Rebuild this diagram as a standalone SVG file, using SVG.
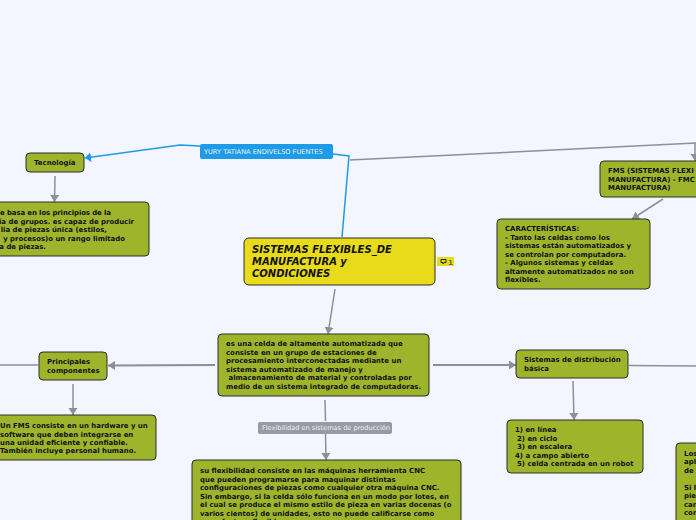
<svg xmlns="http://www.w3.org/2000/svg" width="696" height="520" viewBox="0 0 696 520">
<style>
.n{fill:#9eb52b;stroke:#2c2c2c;stroke-width:1}
.t{font:bold 6.950px "DejaVu Sans",sans-serif;fill:#111}
.e{text-anchor:end}
.c{fill:none;stroke:#8e8e98;stroke-width:1.500}
.w{stroke-width:2.200}
.b{fill:none;stroke:#1e9be8;stroke-width:1.500}
.l{font:6.600px "DejaVu Sans",sans-serif;fill:#e8f2fa}
</style>
<defs>
<marker id="a" markerUnits="userSpaceOnUse" markerWidth="12" markerHeight="10" refX="7" refY="4.500" orient="auto"><path d="M0 0L7 4.500L0 9Z" fill="#8e8e98"/></marker>
<marker id="ab" markerUnits="userSpaceOnUse" markerWidth="12" markerHeight="12" refX="6" refY="5" orient="auto"><path d="M0 0L6 5L0 10Z" fill="#1e9be8"/></marker>
</defs>
<rect width="696" height="520" fill="#f3f6ff"/>
<g id="connectors">
<path class="b" d="M200 146L180 145L85 158" marker-end="url(#ab)"/>
<path class="b" d="M333 154L349 156L342 237"/>
<path class="c" d="M350 160L696 143"/>
<path class="c" d="M695 143L695 161" marker-end="url(#a)"/>
<path class="c" d="M663 199L632 219" marker-end="url(#a)"/>
<path class="c" d="M55 176L54.500 202" marker-end="url(#a)"/>
<path class="c" d="M335 289L328 334" marker-end="url(#a)"/>
<path class="c w" d="M215 365L108 365.500" marker-end="url(#a)"/>
<path class="c" d="M38 365L0 365"/>
<path class="c" d="M73 384L73 415" marker-end="url(#a)"/>
<path class="c w" d="M433 365L516 365" marker-end="url(#a)"/>
<path class="c" d="M629 365.500L696 366"/>
<path class="c" d="M573 381L574 420" marker-end="url(#a)"/>
<path class="c" d="M325 400L325.500 421"/>
<path class="c" d="M325.500 434L326 460" marker-end="url(#a)"/>
</g>
<g id="n-yury"><rect x="200" y="144" width="133" height="15" rx="2" fill="#1e9be8"/><text class="l" x="204" y="154">YURY TATIANA ENDIVELSO FUENTES</text></g>
<g id="n-main"><rect x="244" y="238" width="191" height="47" rx="5" fill="#e8dc1a" stroke="#2c2c2c"/>
<text font-family="DejaVu Sans" font-weight="bold" font-style="italic" font-size="10" fill="#111"><tspan x="252" y="253">SISTEMAS FLEXIBLES_DE</tspan><tspan x="252" y="265">MANUFACTURA y</tspan><tspan x="252" y="277">CONDICIONES</tspan></text></g>
<g id="n-badge"><rect x="437" y="257" width="17" height="9" rx="1" fill="#e8dc1a"/><path d="M441 259.500H446V262.500H444L443 264V262.500H441Z" fill="none" stroke="#222"/><text x="448" y="264.500" font-family="DejaVu Sans" font-size="7" font-weight="bold" fill="#666">1</text></g>
<g id="n-tec"><rect class="n" x="26" y="153" width="58" height="19" rx="4"/><text class="t" x="34" y="165">Tecnología</text></g>
<g id="n-tec2"><rect class="n" x="-30" y="202" width="179" height="54" rx="4"/><text class="t e"><tspan x="111" y="215" textLength="111" lengthAdjust="spacing">e basa en los principios de la</tspan><tspan x="134" y="223.500">ía de grupos. es capaz de producir</tspan><tspan x="107" y="232">lia de piezas única (estilos,</tspan><tspan x="125" y="240.500">y procesos)o un rango limitado</tspan><tspan x="46" y="249">a de piezas.</tspan></text></g>
<g id="n-fms"><rect class="n" x="600" y="161" width="130" height="36" rx="4"/><text class="t"><tspan x="608" y="173">FMS (SISTEMAS FLEXI</tspan><tspan x="608" y="182">MANUFACTURA) - FMC</tspan><tspan x="608" y="190">MANUFACTURA)</tspan></text></g>
<g id="n-car"><rect class="n" x="497" y="219" width="153" height="70" rx="4"/><text class="t"><tspan x="505" y="231">CARACTERÍSTICAS:</tspan><tspan x="505" y="240">- Tanto las celdas como los</tspan><tspan x="505" y="248">sistemas están automatizados y</tspan><tspan x="505" y="257">se controlan por computadora.</tspan><tspan x="505" y="265">- Algunos sistemas y celdas</tspan><tspan x="505" y="274">altamente automatizados no son</tspan><tspan x="505" y="282">flexibles.</tspan></text></g>
<g id="n-celda"><rect class="n" x="218" y="334" width="211" height="62" rx="4"/><text class="t"><tspan x="226" y="346">es una celda de altamente automatizada que</tspan><tspan x="226" y="355">consiste en un grupo de estaciones de</tspan><tspan x="226" y="363">procesamiento interconectadas mediante un</tspan><tspan x="226" y="372">sistema automatizado de manejo y</tspan><tspan x="228.500" y="380">almacenamiento de material y controladas por</tspan><tspan x="226" y="389">medio de un sistema integrado de computadoras.</tspan></text></g>
<g id="n-princ"><rect class="n" x="39" y="352" width="68" height="28" rx="4"/><text class="t"><tspan x="47" y="364">Principales</tspan><tspan x="47" y="373">componentes</tspan></text></g>
<g id="n-un"><rect class="n" x="-30" y="415" width="186" height="45" rx="4"/><text class="t"><tspan x="0" y="428">Un FMS consiste en un hardware y un</tspan><tspan x="0" y="436.500">software que deben integrarse en</tspan><tspan x="0" y="445">una unidad eficiente y confiable.</tspan><tspan x="0" y="453">También incluye personal humano.</tspan></text></g>
<g id="n-flex-label"><rect x="258" y="422" width="134" height="12" rx="2" fill="#9a9aa4"/><text class="l" x="262" y="430">Flexibilidad en sistemas de producción</text></g>
<g id="n-su"><rect class="n" x="192" y="460" width="269" height="75" rx="4"/><text class="t"><tspan x="200" y="473">su flexibilidad consiste en las máquinas herramienta CNC</tspan><tspan x="200" y="481.500">que pueden programarse para maquinar distintas</tspan><tspan x="200" y="490">configuraciones de piezas como cualquier otra máquina CNC.</tspan><tspan x="200" y="498.500">Sin embargo, si la celda sólo funciona en un modo por lotes, en</tspan><tspan x="200" y="507">el cual se produce el mismo estilo de pieza en varias docenas (o</tspan><tspan x="200" y="515.500">varios cientos) de unidades, esto no puede calificarse como</tspan><tspan x="200" y="524">manufactura flexible.</tspan></text></g>
<g id="n-dist"><rect class="n" x="516" y="350" width="112" height="28" rx="4"/><text class="t"><tspan x="524" y="362">Sistemas de distribución</tspan><tspan x="524" y="371">básica</tspan></text></g>
<g id="n-lista"><rect class="n" x="507" y="420" width="136" height="53" rx="4"/><text class="t"><tspan x="515" y="432">1) en línea</tspan><tspan x="517" y="441">2) en ciclo</tspan><tspan x="517" y="449">3) en escalera</tspan><tspan x="515" y="458">4) a campo abierto</tspan><tspan x="517" y="466">5) celda centrada en un robot</tspan></text></g>
<g id="n-los"><rect class="n" x="676" y="443" width="80" height="90" rx="4"/><text class="t"><tspan x="684" y="456">Los</tspan><tspan x="684" y="464">apl</tspan><tspan x="684" y="473">de</tspan><tspan x="684" y="490">Si l</tspan><tspan x="684" y="498">pie</tspan><tspan x="684" y="507">can</tspan><tspan x="684" y="515">con</tspan></text></g>
</svg>
